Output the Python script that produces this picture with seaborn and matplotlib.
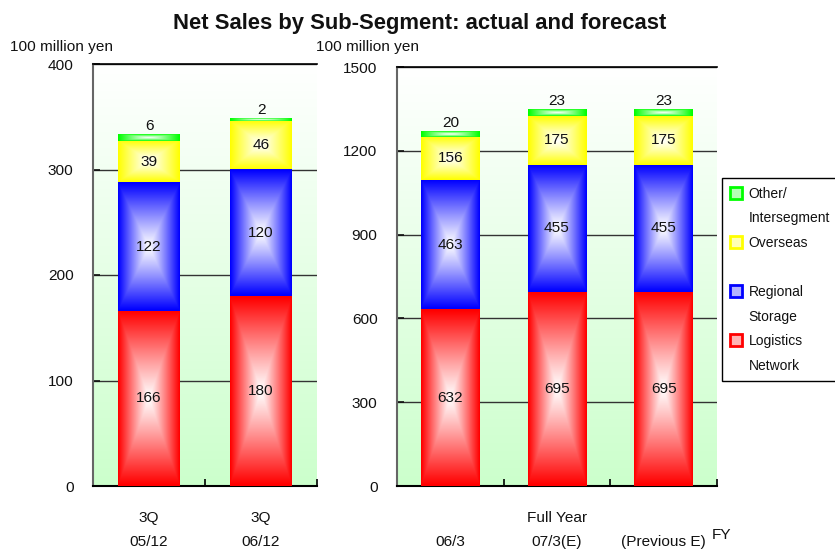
import numpy as np
import pandas as pd
import matplotlib
matplotlib.use("Agg")
import matplotlib.pyplot as plt
import seaborn as sns
from matplotlib import font_manager as fm
from matplotlib.lines import Line2D

# ---- data ----
left_cats = ["3Q\n05/12", "3Q\n06/12"]
right_cats = ["\n06/3", "Full Year\n07/3(E)", "\n(Previous E)"]
segment_names = ["Logistics\nNetwork", "Regional\nStorage", "Overseas\n", "Other/\nIntersegment"]
left_logistics = [166, 180]
left_regional = [122, 120]
left_overseas = [39, 46]
left_other = [6, 2]
right_logistics = [632, 695, 695]
right_regional = [463, 455, 455]
right_overseas = [156, 175, 175]
right_other = [20, 23, 23]
left_yticks = [0, 100, 200, 300, 400]
right_yticks = [0, 300, 600, 900, 1200, 1500]
seg_colors = ["#ff0000", "#0000ff", "#ffff00", "#00ff00"]

sns.set_theme(style="white")
names = {f.name for f in fm.fontManager.ttflist}
if "Liberation Sans Narrow" in names:
    FONT = "Liberation Sans Narrow"; k = 1.0
else:
    FONT = "Liberation Sans"; k = 0.85
plt.rcParams["font.family"] = [FONT, "DejaVu Sans"]

W, H = 835, 549
fig = plt.figure(figsize=(W / 100, H / 100), dpi=100)
fig.patch.set_facecolor("white")


def fx(px):
    return px / W


def fy(py):
    return 1 - py / H


def box_grad(color, n=60, m=60):
    c = np.array(matplotlib.colors.to_rgb(color))
    xs = np.linspace(-1, 1, n)
    ys = np.linspace(-1, 1, m)
    X, Y = np.meshgrid(xs, ys)
    t = np.clip(np.maximum(np.abs(X), np.abs(Y)), 0, 1) ** 1.1
    return 1 - t[..., None] * (1 - c[None, None, :])


bg = np.ones((100, 2, 3))
fr = np.linspace(0, 1, 100)[:, None]  # 0 at bottom row (origin lower)
bg[:, :, 0] = 0.80 + 0.20 * fr
bg[:, :, 2] = 0.80 + 0.20 * fr


def draw(ax, cats, layers, yticks):
    ax.imshow(bg, extent=(0, 1, 0, 1), transform=ax.transAxes, origin="lower",
              aspect="auto", zorder=-5, interpolation="bilinear")
    bottoms = np.zeros(len(cats))
    for li, (vals, col) in enumerate(zip(layers, seg_colors)):
        df = pd.DataFrame({"cat": cats, "val": vals})
        n0 = len(ax.patches)
        sns.barplot(data=df, x="cat", y="val", color=col, saturation=1, width=0.55,
                    bottom=bottoms, errorbar=None, ax=ax, zorder=3, linewidth=0)
        for p, v in zip(ax.patches[n0:], vals):
            x0, y0, w, h = p.get_x(), p.get_y(), p.get_width(), p.get_height()
            ax.imshow(box_grad(col), extent=(x0, x0 + w, y0, y0 + h), origin="lower",
                      aspect="auto", zorder=4, interpolation="bilinear")
            if li < 3:
                ax.text(x0 + w / 2, y0 + h / 2, str(v), ha="center", va="center",
                        fontsize=13 * k, color="#111", zorder=6)
            else:
                ax.annotate(str(v), (x0 + w / 2, y0 + h), xytext=(0, 1),
                            textcoords="offset points", ha="center", va="bottom",
                            fontsize=13 * k, color="#111", zorder=6)
        bottoms = bottoms + np.array(vals)
    n = len(cats)
    ax.set_xlim(-0.5, n - 0.5)
    ax.set_ylim(yticks[0], yticks[-1])
    ax.set_yticks(yticks)
    ax.set_yticklabels([str(t) for t in yticks])
    ax.set_xticks(range(n))
    ax.set_xticklabels(cats, linespacing=1.95)
    ax.set_xticks(np.arange(0.5, n, 1.0), minor=True)
    ax.set_xlabel("")
    ax.set_ylabel("")
    ax.set_axisbelow(True)
    ax.yaxis.grid(True, color="#333333", lw=1.0, zorder=1)
    ax.xaxis.grid(False)
    ax.tick_params(axis="x", which="major", length=0, pad=18, labelsize=13 * k, colors="#111")
    ax.tick_params(axis="x", which="minor", direction="in", length=5, width=1.2, color="black", bottom=True)
    ax.tick_params(axis="y", direction="in", length=5, width=1.2, pad=14, labelsize=13 * k,
                   colors="#111", left=True)
    ax.spines["right"].set_visible(False)
    ax.spines["top"].set_visible(True)
    ax.spines["top"].set_color("black")
    ax.spines["top"].set_linewidth(1.2)
    ax.spines["left"].set_visible(True)
    ax.spines["left"].set_color("#666666")
    ax.spines["left"].set_linewidth(1.5)
    ax.spines["bottom"].set_visible(True)
    ax.spines["bottom"].set_color("black")
    ax.spines["bottom"].set_linewidth(1.5)


axL = fig.add_axes([fx(93), fy(486), fx(317) - fx(93), fy(64) - fy(486)])
axR = fig.add_axes([fx(397), fy(486), fx(717) - fx(397), fy(67) - fy(486)])
draw(axL, left_cats, [left_logistics, left_regional, left_overseas, left_other], left_yticks)
draw(axR, right_cats, [right_logistics, right_regional, right_overseas, right_other], right_yticks)

fig.text(fx(420), fy(23), "Net Sales by Sub-Segment: actual and forecast", ha="center", va="center",
         fontsize=18.6 * k, weight="bold", color="#111")
fig.text(fx(10), fy(47), "100 million yen", ha="left", va="center", fontsize=13 * k, color="#111")
fig.text(fx(316), fy(47), "100 million yen", ha="left", va="center", fontsize=13 * k, color="#111")
fig.text(fx(712), fy(535), "FY", ha="left", va="center", fontsize=13 * k, color="#111")

# legend: one row per text line, marker on the first line of each entry
handles = []
labels = []
for i in [3, 2, 1, 0]:
    c = np.array(matplotlib.colors.to_rgb(seg_colors[i]))
    light = 1 - 0.3 * (1 - c)
    lines = segment_names[i].split("\n")
    for j, line in enumerate(lines):
        if j == 0:
            handles.append(Line2D([], [], marker="s", ls="", markersize=8, markerfacecolor=light,
                                  markeredgecolor=seg_colors[i], markeredgewidth=2))
        else:
            handles.append(Line2D([], [], marker="", ls="", color="none"))
        labels.append(line if line else " ")
leg = fig.legend(handles, labels, loc="upper left", bbox_to_anchor=(fx(722), fy(178)),
                 frameon=True, fancybox=False, framealpha=1, edgecolor="black",
                 fontsize=11.8 * k, handlelength=0.8, handletextpad=0.5, labelspacing=0.76,
                 borderpad=0.62, borderaxespad=0)
leg.get_frame().set_linewidth(1.0)
for t in leg.get_texts():
    t.set_color("#111")

fig.savefig("out.png", dpi=100)
